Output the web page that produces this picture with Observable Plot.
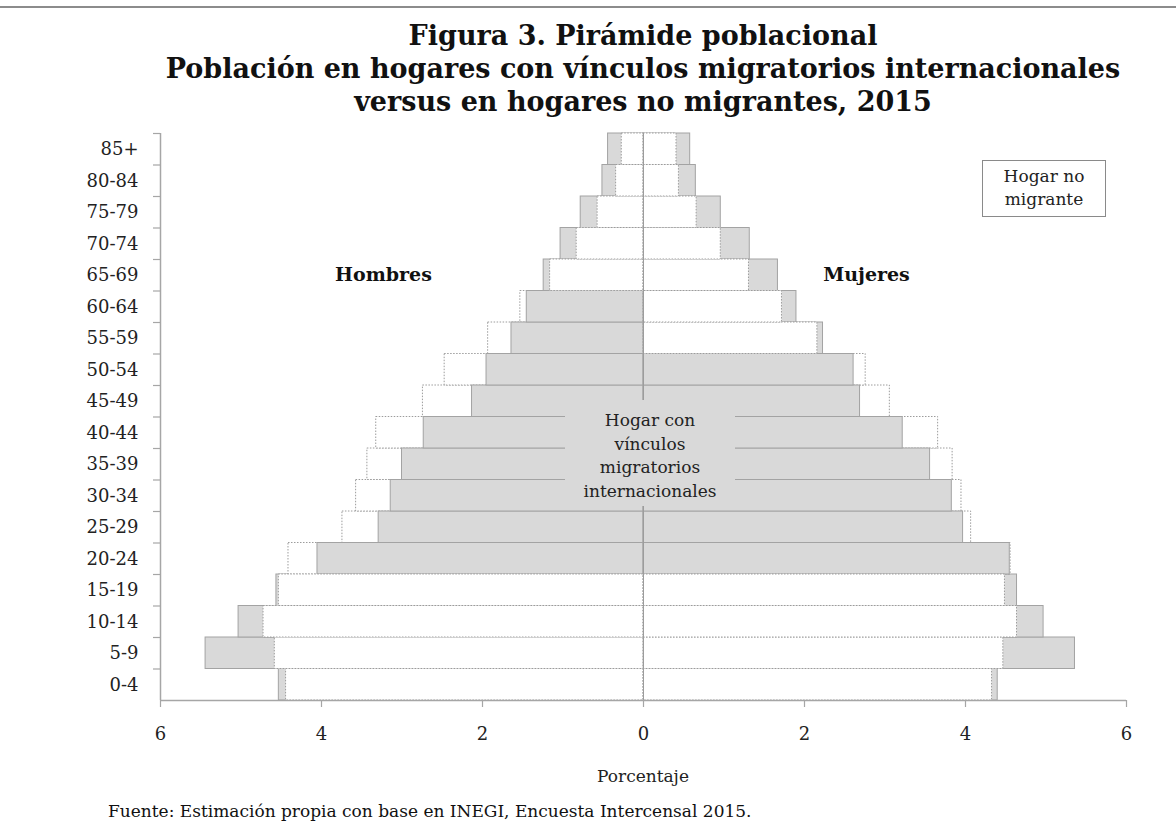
<!DOCTYPE html>
<html>
<head>
<meta charset="utf-8">
<script src="https://cdn.jsdelivr.net/npm/d3@7"></script>
<script src="https://cdn.jsdelivr.net/npm/@observablehq/plot@0.6"></script>
<style>
  body { margin: 0; background: #fff; font-family: "DejaVu Serif", serif; }
  #page { position: relative; width: 1176px; height: 838px; overflow: hidden; }
  .abs { position: absolute; }
</style>
</head>
<body>
<div id="page">
  <div class="abs" style="left:0;top:6px;width:1176px;border-top:2px solid #8c8c8c;"></div>
  <div id="title" class="abs" style="left:160px;top:19px;width:966px;text-align:center;font-size:27px;font-weight:bold;line-height:33px;color:#111;"></div>
  <div id="chart" class="abs" style="left:0;top:100px;line-height:0;"></div>
  <div id="legNo" class="abs" style="left:982px;top:160px;width:122px;height:51px;border:1.5px solid #8a8a8a;background:#fff;text-align:center;font-size:17px;line-height:23px;padding-top:4px;box-sizing:content-box;color:#222;"></div>
  <div id="legMig" class="abs" style="left:565px;top:400px;width:170px;height:97px;background:#d9d9d9;text-align:center;font-size:17px;line-height:23.7px;padding-top:9px;color:#222;"></div>
  <div id="xlab" class="abs" style="left:160px;top:766px;width:966px;text-align:center;font-size:17px;color:#222;"></div>
  <div id="caption" class="abs" style="left:108px;top:801px;font-size:17px;color:#111;"></div>
</div>
<script>
// Age groups (bottom to top)
const edades = ["0-4","5-9","10-14","15-19","20-24","25-29","30-34","35-39","40-44","45-49","50-54","55-59","60-64","65-69","70-74","75-79","80-84","85+"];
// Percentages
const hombresNoMigrante = [4.44, 4.58, 4.72, 4.53, 4.41, 3.74, 3.57, 3.43, 3.32, 2.74, 2.47, 1.93, 1.53, 1.16, 0.83, 0.57, 0.34, 0.27];
const hombresMigrante   = [4.53, 5.44, 5.03, 4.56, 4.05, 3.29, 3.14, 3.00, 2.73, 2.13, 1.95, 1.64, 1.45, 1.24, 1.03, 0.78, 0.51, 0.44];
const mujeresNoMigrante = [4.33, 4.47, 4.64, 4.49, 4.56, 4.07, 3.95, 3.84, 3.66, 3.06, 2.76, 2.16, 1.72, 1.31, 0.96, 0.66, 0.44, 0.41];
const mujeresMigrante   = [4.40, 5.36, 4.97, 4.64, 4.55, 3.97, 3.83, 3.56, 3.22, 2.69, 2.61, 2.23, 1.90, 1.67, 1.32, 0.96, 0.65, 0.58];
const xTicks = [-6, -4, -2, 0, 2, 4, 6];

const titulo = ["Figura 3. Pirámide poblacional", "Población en hogares con vínculos migratorios internacionales", "versus en hogares no migrantes, 2015"];
const etiquetaNo = ["Hogar no", "migrante"];
const etiquetaMig = ["Hogar con", "vínculos", "migratorios", "internacionales"];
const sexos = [{sexo: "Hombres", x: -3.23, edad: "65-69"}, {sexo: "Mujeres", x: 2.77, edad: "65-69"}];

document.getElementById("title").innerHTML = titulo.join("<br>");
document.getElementById("legNo").innerHTML = etiquetaNo.join("<br>");
document.getElementById("legMig").innerHTML = etiquetaMig.join("<br>");
document.getElementById("xlab").textContent = "Porcentaje";
document.getElementById("caption").textContent = "Fuente: Estimación propia con base en INEGI, Encuesta Intercensal 2015.";

// Build rows; the larger bar of each pair is drawn first, the smaller on top
const rows = [];
edades.forEach((e, i) => {
  const pares = [
    ["Hombres", -hombresMigrante[i], -hombresNoMigrante[i]],
    ["Mujeres", mujeresMigrante[i], mujeresNoMigrante[i]]
  ];
  for (const [sexo, mig, no] of pares) {
    const migMayor = Math.abs(mig) >= Math.abs(no);
    rows.push({edad: e, sexo, tipo: "mig", v: mig, mayor: migMayor});
    rows.push({edad: e, sexo, tipo: "no", v: no, mayor: !migMayor});
  }
});

const axisGray = "#a6a6a6";
const H = 660, mT = 33, mB = 60;
const bw = (H - mT - mB) / edades.length;

const migStyle = {fill: "#d9d9d9", stroke: "#a3a3a3", strokeWidth: 1};
const noStyle = {fill: "#ffffff", stroke: "#9c9c9c", strokeWidth: 1, strokeDasharray: "1.5,1.5"};

const chart = Plot.plot({
  width: 1176,
  height: H,
  marginTop: mT,
  marginBottom: mB,
  marginLeft: 160,
  marginRight: 50,
  style: {fontFamily: "DejaVu Serif", color: "#222", background: "transparent"},
  x: {domain: [-6, 6]},
  y: {domain: edades.slice().reverse(), padding: 0, round: false},
  marks: [
    Plot.barX(rows.filter(d => d.mayor && d.tipo === "mig"), {x: "v", y: "edad", ...migStyle}),
    Plot.barX(rows.filter(d => d.mayor && d.tipo === "no"), {x: "v", y: "edad", ...noStyle}),
    Plot.barX(rows.filter(d => !d.mayor && d.tipo === "mig"), {x: "v", y: "edad", ...migStyle}),
    Plot.barX(rows.filter(d => !d.mayor && d.tipo === "no"), {x: "v", y: "edad", ...noStyle}),
    Plot.ruleX([0], {stroke: "#9c9c9c", strokeWidth: 1}),
    Plot.ruleX([-6], {stroke: axisGray, strokeWidth: 1.5}),
    Plot.ruleY(["0-4"], {dy: bw / 2, stroke: axisGray, strokeWidth: 1.5}),
    // y ticks at category boundaries
    Plot.axisY({tickSize: 7, tickFormat: () => "", dy: -bw / 2, stroke: axisGray, strokeWidth: 1.2, label: null}),
    Plot.axisY({tickSize: 0, tickPadding: 22, fontSize: 18, label: null}),
    Plot.axisX({ticks: xTicks, tickSize: 7, tickFormat: () => "", stroke: axisGray, strokeWidth: 1.2, label: null}),
    Plot.axisX({ticks: xTicks, tickSize: 0, tickPadding: 27, tickFormat: d => Math.abs(d), fontSize: 18, label: null}),
    Plot.text(sexos, {x: "x", y: "edad", text: "sexo", fontWeight: "bold", fontSize: 19, fill: "#111"})
  ]
});
document.getElementById("chart").appendChild(chart);
</script>
</body>
</html>
